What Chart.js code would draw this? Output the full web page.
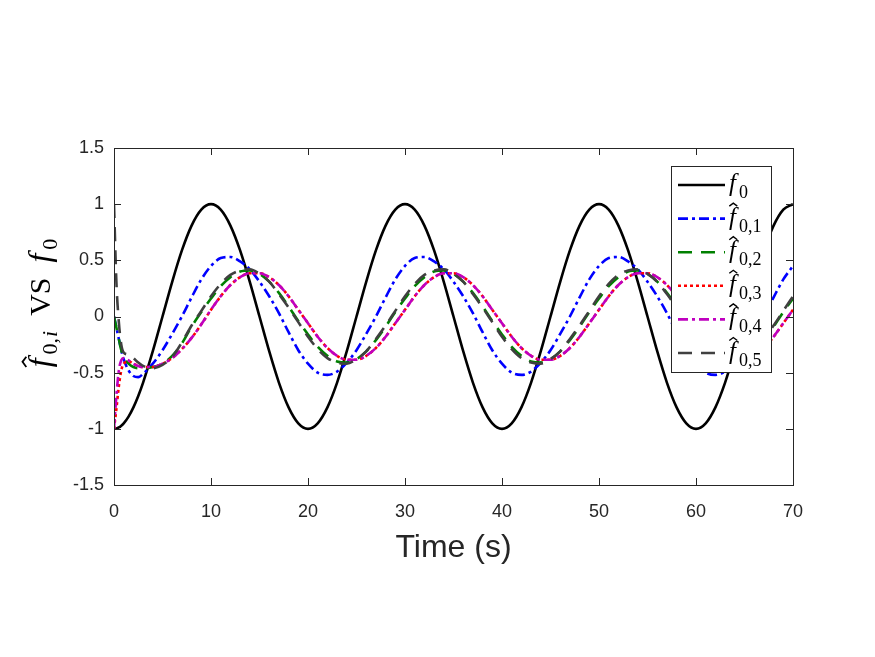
<!DOCTYPE html>
<html>
<head>
<meta charset="utf-8">
<script src="https://cdn.jsdelivr.net/npm/chart.js@4.4.1/dist/chart.umd.min.js"></script>
<style>
  html, body { margin: 0; padding: 0; background: #fff; }
  canvas { display: block; }
</style>
</head>
<body>
<canvas id="chart" width="875" height="657"></canvas>
<script>
// ===============================
// Dados
// ===============================
const time = [0, 0.25, 0.5, 0.75, 1, 1.5, 2, 2.5,
  3, 4, 5, 6, 7, 8, 9,
  10, 11, 12, 13, 14, 15, 16, 17, 18, 19,
  20, 21, 22, 23, 24, 25, 26, 27, 28, 29,
  30, 31, 32, 33, 34, 35, 36, 37, 38, 39,
  40, 41, 42, 43, 44, 45, 46, 47, 48, 49,
  50, 51, 52, 53, 54, 55, 56, 57, 58, 59,
  60, 61, 62, 63, 64, 65, 66, 67, 68, 69,
  70];

const f0 = [-1, -0.997, -0.988, -0.972, -0.951, -0.891, -0.809, -0.707,
  -0.588, -0.309, 0, 0.309, 0.588, 0.809, 0.951,
  1, 0.951, 0.809, 0.588, 0.309, 0, -0.309, -0.588, -0.809, -0.951,
  -1, -0.951, -0.809, -0.588, -0.309, 0, 0.309, 0.588, 0.809, 0.951,
  1, 0.951, 0.809, 0.588, 0.309, 0, -0.309, -0.588, -0.809, -0.951,
  -1, -0.951, -0.809, -0.588, -0.309, 0, 0.309, 0.588, 0.809, 0.951,
  1, 0.951, 0.809, 0.588, 0.309, 0, -0.309, -0.588, -0.809, -0.951,
  -1, -0.951, -0.809, -0.588, -0.309, 0, 0.309, 0.588, 0.809, 0.951,
  1];

const f01 = [0, -0.10, -0.20, -0.30, -0.38, -0.48, -0.53, -0.54,
  -0.51, -0.42, -0.30, -0.155, 0.0, 0.17, 0.33,
  0.45, 0.52, 0.53, 0.49, 0.42, 0.31, 0.18, 0.03, -0.14, -0.30,
  -0.42, -0.50, -0.52, -0.49, -0.41, -0.30, -0.155, 0.0, 0.17, 0.33,
  0.45, 0.52, 0.53, 0.49, 0.42, 0.31, 0.18, 0.03, -0.14, -0.30,
  -0.42, -0.50, -0.52, -0.49, -0.41, -0.30, -0.155, 0.0, 0.17, 0.33,
  0.45, 0.52, 0.53, 0.49, 0.42, 0.31, 0.18, 0.03, -0.14, -0.30,
  -0.42, -0.50, -0.52, -0.49, -0.41, -0.30, -0.155, 0.0, 0.17, 0.33,
  0.45];

const f02 = [0, -0.10, -0.20, -0.30, -0.36, -0.42, -0.45, -0.46,
  -0.46, -0.45, -0.42, -0.35, -0.24, -0.09, 0.04,
  0.16, 0.27, 0.35, 0.40, 0.41, 0.38, 0.31, 0.21, 0.09, -0.04,
  -0.16, -0.27, -0.35, -0.40, -0.41, -0.38, -0.31, -0.21, -0.09, 0.04,
  0.16, 0.27, 0.35, 0.40, 0.41, 0.38, 0.31, 0.21, 0.09, -0.04,
  -0.16, -0.27, -0.35, -0.40, -0.41, -0.38, -0.31, -0.21, -0.09, 0.04,
  0.16, 0.27, 0.35, 0.40, 0.41, 0.38, 0.31, 0.21, 0.09, -0.04,
  -0.16, -0.27, -0.35, -0.40, -0.41, -0.38, -0.31, -0.21, -0.09, 0.04,
  0.16];

const f03 = [-1, -0.82, -0.62, -0.48, -0.42, -0.40, -0.42, -0.44,
  -0.45, -0.45, -0.42, -0.37, -0.29, -0.19, -0.07,
  0.06, 0.18, 0.28, 0.35, 0.385, 0.385, 0.35, 0.28, 0.18, 0.06,
  -0.06, -0.18, -0.28, -0.35, -0.385, -0.385, -0.35, -0.28, -0.18, -0.06,
  0.06, 0.18, 0.28, 0.35, 0.385, 0.385, 0.35, 0.28, 0.18, 0.06,
  -0.06, -0.18, -0.28, -0.35, -0.385, -0.385, -0.35, -0.28, -0.18, -0.06,
  0.06, 0.18, 0.28, 0.35, 0.385, 0.385, 0.35, 0.28, 0.18, 0.06,
  -0.06, -0.18, -0.28, -0.35, -0.385, -0.385, -0.35, -0.28, -0.18, -0.06,
  0.06];

const f04 = [-1, -0.70, -0.48, -0.39, -0.37, -0.39, -0.42, -0.44,
  -0.45, -0.45, -0.42, -0.37, -0.29, -0.19, -0.07,
  0.06, 0.18, 0.28, 0.35, 0.385, 0.385, 0.35, 0.28, 0.18, 0.06,
  -0.06, -0.18, -0.28, -0.35, -0.385, -0.385, -0.35, -0.28, -0.18, -0.06,
  0.06, 0.18, 0.28, 0.35, 0.385, 0.385, 0.35, 0.28, 0.18, 0.06,
  -0.06, -0.18, -0.28, -0.35, -0.385, -0.385, -0.35, -0.28, -0.18, -0.06,
  0.06, 0.18, 0.28, 0.35, 0.385, 0.385, 0.35, 0.28, 0.18, 0.06,
  -0.06, -0.18, -0.28, -0.35, -0.385, -0.385, -0.35, -0.28, -0.18, -0.06,
  0.06];

const f05 = [1.0, 0.30, -0.05, -0.25, -0.32, -0.34, -0.37, -0.41,
  -0.44, -0.46, -0.43, -0.36, -0.23, -0.08, 0.05,
  0.18, 0.29, 0.37, 0.41, 0.42, 0.38, 0.31, 0.20, 0.08, -0.05,
  -0.18, -0.29, -0.37, -0.41, -0.42, -0.38, -0.31, -0.20, -0.08, 0.05,
  0.18, 0.29, 0.37, 0.41, 0.42, 0.38, 0.31, 0.20, 0.08, -0.05,
  -0.18, -0.29, -0.37, -0.41, -0.42, -0.38, -0.31, -0.20, -0.08, 0.05,
  0.18, 0.29, 0.37, 0.41, 0.42, 0.38, 0.31, 0.20, 0.08, -0.05,
  -0.18, -0.29, -0.37, -0.41, -0.42, -0.38, -0.31, -0.20, -0.08, 0.05,
  0.18];

const xTicks = [0, 10, 20, 30, 40, 50, 60, 70];
const yTicks = [-1.5, -1, -0.5, 0, 0.5, 1, 1.5];

// ===============================
// Estilos das series
// ===============================
const series = [
  { values: f0,  sub: "0",   hat: false, color: "#000000", dash: [],             width: 2.6 },
  { values: f01, sub: "0,1", hat: true,  color: "#0000ff", dash: [10, 4, 3, 4],  width: 2.6 },
  { values: f02, sub: "0,2", hat: true,  color: "#008000", dash: [14, 9],        width: 2.6 },
  { values: f03, sub: "0,3", hat: true,  color: "#ff0000", dash: [3, 3],         width: 2.6 },
  { values: f04, sub: "0,4", hat: true,  color: "#bf00bf", dash: [10, 4, 3, 4],  width: 2.6 },
  { values: f05, sub: "0,5", hat: true,  color: "#404040", dash: [14, 9],        width: 2.6 }
];

const AXIS_COLOR = "#262626";
const TICK_FONT = { family: "'Liberation Sans', Arial, sans-serif", size: 18 };
const SERIF = "'Liberation Serif', 'DejaVu Serif', serif";

// Desenha texto matematico (f com chapeu e subscrito)
function mathParts(ctx, parts, x, y, measureOnly) {
  let cx = x;
  parts.forEach((p) => {
    ctx.font = (p.italic ? "italic " : "") + p.size + "px " + SERIF;
    const w = ctx.measureText(p.text).width;
    if (!measureOnly) {
      ctx.fillText(p.text, cx, y + (p.dy || 0));
      if (p.hat) {
        const hx = cx + w * 0.62;
        const hy = y - p.size * 0.86;
        const hw = p.size * 0.16;
        ctx.beginPath();
        ctx.moveTo(hx - hw, hy + hw * 0.75);
        ctx.lineTo(hx, hy);
        ctx.lineTo(hx + hw, hy + hw * 0.75);
        ctx.lineWidth = p.size / 18;
        ctx.strokeStyle = ctx.fillStyle;
        ctx.stroke();
      }
    }
    cx += w + (p.gap || 0);
  });
  return cx - x;
}

function symbolParts(s, size) {
  const subSize = Math.round(size * 0.7);
  return [
    { text: "f", italic: true, size: size, hat: s.hat, gap: size * 0.12 },
    { text: s.sub, italic: false, size: subSize, dy: size * 0.28 }
  ];
}

// ===============================
// Plugin: moldura, ticks internos, legenda e titulos
// ===============================
const decorPlugin = {
  id: "decor",
  afterDatasetsDraw(chart) {
    const ctx = chart.ctx;
    const area = chart.chartArea;
    const xs = chart.scales.x;
    const ys = chart.scales.y;
    const tl = 7;

    ctx.save();
    ctx.strokeStyle = AXIS_COLOR;
    ctx.lineWidth = 1;
    ctx.strokeRect(Math.round(area.left) + 0.5, Math.round(area.top) + 0.5,
      Math.round(area.right - area.left), Math.round(area.bottom - area.top));

    ctx.beginPath();
    xTicks.forEach((v) => {
      const px = Math.round(xs.getPixelForValue(v)) + 0.5;
      ctx.moveTo(px, area.bottom);
      ctx.lineTo(px, area.bottom - tl);
      ctx.moveTo(px, area.top);
      ctx.lineTo(px, area.top + tl);
    });
    yTicks.forEach((v) => {
      const py = Math.round(ys.getPixelForValue(v)) + 0.5;
      ctx.moveTo(area.left, py);
      ctx.lineTo(area.left + tl, py);
      ctx.moveTo(area.right, py);
      ctx.lineTo(area.right - tl, py);
    });
    ctx.stroke();

    // --- Legenda ---
    const lx = 671.5, ly = 166.5, lw = 100, lh = 206;
    ctx.fillStyle = "#ffffff";
    ctx.fillRect(lx, ly, lw, lh);
    ctx.strokeStyle = AXIS_COLOR;
    ctx.lineWidth = 1;
    ctx.strokeRect(lx, ly, lw, lh);

    series.forEach((s, i) => {
      const cy = 185 + i * 33.6;
      ctx.beginPath();
      ctx.setLineDash(s.dash);
      ctx.strokeStyle = s.color;
      ctx.lineWidth = s.width;
      ctx.moveTo(678, cy);
      ctx.lineTo(725, cy);
      ctx.stroke();
      ctx.setLineDash([]);
      ctx.fillStyle = "#000000";
      ctx.textBaseline = "alphabetic";
      ctx.textAlign = "left";
      mathParts(ctx, symbolParts(s, 25), 729, cy + 6, false);
    });

    // --- Titulo do eixo y ---
    ctx.save();
    ctx.translate(50, 303);
    ctx.rotate(-Math.PI / 2);
    ctx.fillStyle = "#000000";
    const yParts = [
      { text: "f", italic: true, size: 32, hat: true, gap: 4 },
      { text: "0,", italic: false, size: 22, dy: 7, gap: 1 },
      { text: "i", italic: true, size: 22, dy: 7 },
      { text: "  VS  ", italic: false, size: 30 },
      { text: "f", italic: true, size: 32, gap: 4 },
      { text: "0", italic: false, size: 22, dy: 7 }
    ];
    const tw = mathParts(ctx, yParts, 0, 0, true);
    mathParts(ctx, yParts, -tw / 2, 0, false);
    ctx.restore();

    // --- Titulo do eixo x ---
    ctx.fillStyle = AXIS_COLOR;
    ctx.font = "32px 'Liberation Sans', Arial, sans-serif";
    ctx.textAlign = "center";
    ctx.textBaseline = "alphabetic";
    ctx.fillText("Time (s)", (area.left + area.right) / 2, 557);
    ctx.restore();
  }
};

// ===============================
// Grafico
// ===============================
document.addEventListener("DOMContentLoaded", function () {
  const ctx = document.getElementById("chart").getContext("2d");

  const datasets = series.map((s, i) => ({
    label: "f" + s.sub,
    data: time.map((t, k) => ({ x: t, y: s.values[k] })),
    borderColor: s.color,
    borderWidth: s.width,
    borderDash: s.dash,
    pointRadius: 0,
    fill: false,
    cubicInterpolationMode: "monotone",
    order: series.length - 1 - i
  }));

  new Chart(ctx, {
    type: "line",
    data: { datasets: datasets },
    options: {
      responsive: false,
      animation: false,
      layout: { padding: { top: 148, right: 82, bottom: 0, left: 0 } },
      plugins: {
        legend: { display: false },
        tooltip: { enabled: false }
      },
      scales: {
        x: {
          type: "linear",
          min: 0,
          max: 70,
          afterFit: (scale) => { scale.height = 172; },
          afterBuildTicks: (scale) => { scale.ticks = xTicks.map((v) => ({ value: v })); },
          ticks: { padding: 16, font: TICK_FONT, color: AXIS_COLOR, maxRotation: 0 },
          grid: { display: false, drawTicks: false },
          border: { display: false }
        },
        y: {
          type: "linear",
          min: -1.5,
          max: 1.5,
          afterFit: (scale) => { scale.width = 114; },
          afterBuildTicks: (scale) => { scale.ticks = yTicks.map((v) => ({ value: v })); },
          ticks: { padding: 10, font: TICK_FONT, color: AXIS_COLOR, callback: (v) => String(v) },
          grid: { display: false, drawTicks: false },
          border: { display: false }
        }
      }
    },
    plugins: [decorPlugin]
  });
});
</script>
</body>
</html>
